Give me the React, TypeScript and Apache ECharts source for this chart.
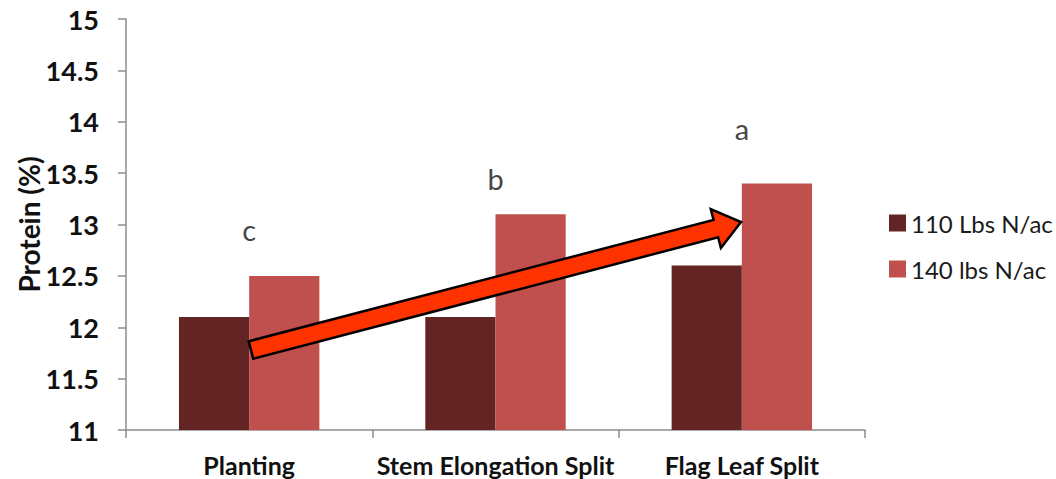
import React, { useEffect, useRef } from "react";
import * as echarts from "echarts";

const categories = ["Planting", "Stem Elongation Split", "Flag Leaf Split"];
const series110 = [12.1, 12.1, 12.6];
const series140 = [12.5, 13.1, 13.4];
const letters = ["c", "b", "a"];
const letterPos = [12.95, 13.45, 13.93];
const yTicks = { min: 11, max: 15, interval: 0.5 };

export default function App() {
  const ref = useRef<HTMLDivElement>(null);
  useEffect(() => {
    const chart = echarts.init(ref.current!, null, { renderer: "svg" });
    // arrow geometry (annotation)
    const S = [251, 350];
    const E = [741, 222];
    const dx = E[0] - S[0], dy = E[1] - S[1];
    const L = Math.sqrt(dx * dx + dy * dy);
    const ux = dx / L, uy = dy / L;
    const nx = -uy, ny = ux;
    const hw = 9, headLen = 26, headW = 20;
    const H = [E[0] - ux * headLen, E[1] - uy * headLen];
    const pts = [
      [S[0] + nx * hw, S[1] + ny * hw],
      [H[0] + nx * hw, H[1] + ny * hw],
      [H[0] + nx * headW, H[1] + ny * headW],
      E,
      [H[0] - nx * headW, H[1] - ny * headW],
      [H[0] - nx * hw, H[1] - ny * hw],
      [S[0] - nx * hw, S[1] - ny * hw],
    ];
    const font = "Lato, 'Open Sans', sans-serif";
    chart.setOption({
      animation: false,
      textStyle: { fontFamily: font },
      grid: { left: 126, top: 19, right: 191, bottom: 49 },
      legend: {
        orient: "vertical",
        left: 884,
        top: 206,
        itemWidth: 17,
        itemHeight: 17,
        itemGap: 22,
        icon: "rect",
        textStyle: { fontSize: 24, color: "#1a1a1a", fontFamily: font },
        data: ["110 Lbs N/ac", "140 lbs N/ac"],
      },
      xAxis: {
        type: "category",
        data: categories,
        axisLine: { lineStyle: { color: "#8c8c8c", width: 1.5 } },
        axisTick: { show: true, length: 8, lineStyle: { color: "#8c8c8c", width: 1.5 } },
        axisLabel: { color: "#111", fontWeight: "bold", fontSize: 25, margin: 22, interval: 0, fontFamily: font },
      },
      yAxis: {
        type: "value",
        min: yTicks.min,
        max: yTicks.max,
        interval: yTicks.interval,
        name: "Protein (%)",
        nameLocation: "middle",
        nameGap: 83,
        nameMoveOverlap: false,
        nameTextStyle: { fontSize: 28, fontWeight: "bold", color: "#111", fontFamily: font },
        splitLine: { show: false },
        axisLine: { show: true, lineStyle: { color: "#8c8c8c", width: 1.5 } },
        axisTick: { show: true, length: 8, lineStyle: { color: "#8c8c8c", width: 1.5 } },
        axisLabel: { color: "#111", fontWeight: "bold", fontSize: 27, margin: 27, fontFamily: font },
      },
      series: [
        {
          name: "110 Lbs N/ac",
          type: "bar",
          data: series110,
          barGap: "0%",
          barCategoryGap: "43%",
          itemStyle: { color: "#632523" },
        },
        {
          name: "140 lbs N/ac",
          type: "bar",
          data: series140,
          itemStyle: { color: "#C0504D" },
        },
        {
          name: "letters",
          type: "scatter",
          data: letterPos,
          symbolSize: 0,
          silent: true,
          label: {
            show: true,
            position: "inside",
            formatter: (p: any) => letters[p.dataIndex],
            fontSize: 29,
            color: "#111",
            fontFamily: font,
          },
        },
      ],
      graphic: [
        {
          type: "polygon",
          shape: { points: pts },
          style: { fill: "#FF3300", stroke: "#000", lineWidth: 2.5 },
          z: 100,
        },
      ],
    });
    return () => chart.dispose();
  }, []);
  return (
    <div
      ref={ref}
      style={{ position: "fixed", left: 0, top: 0, width: 1056, height: 479, background: "#fff" }}
    />
  );
}
